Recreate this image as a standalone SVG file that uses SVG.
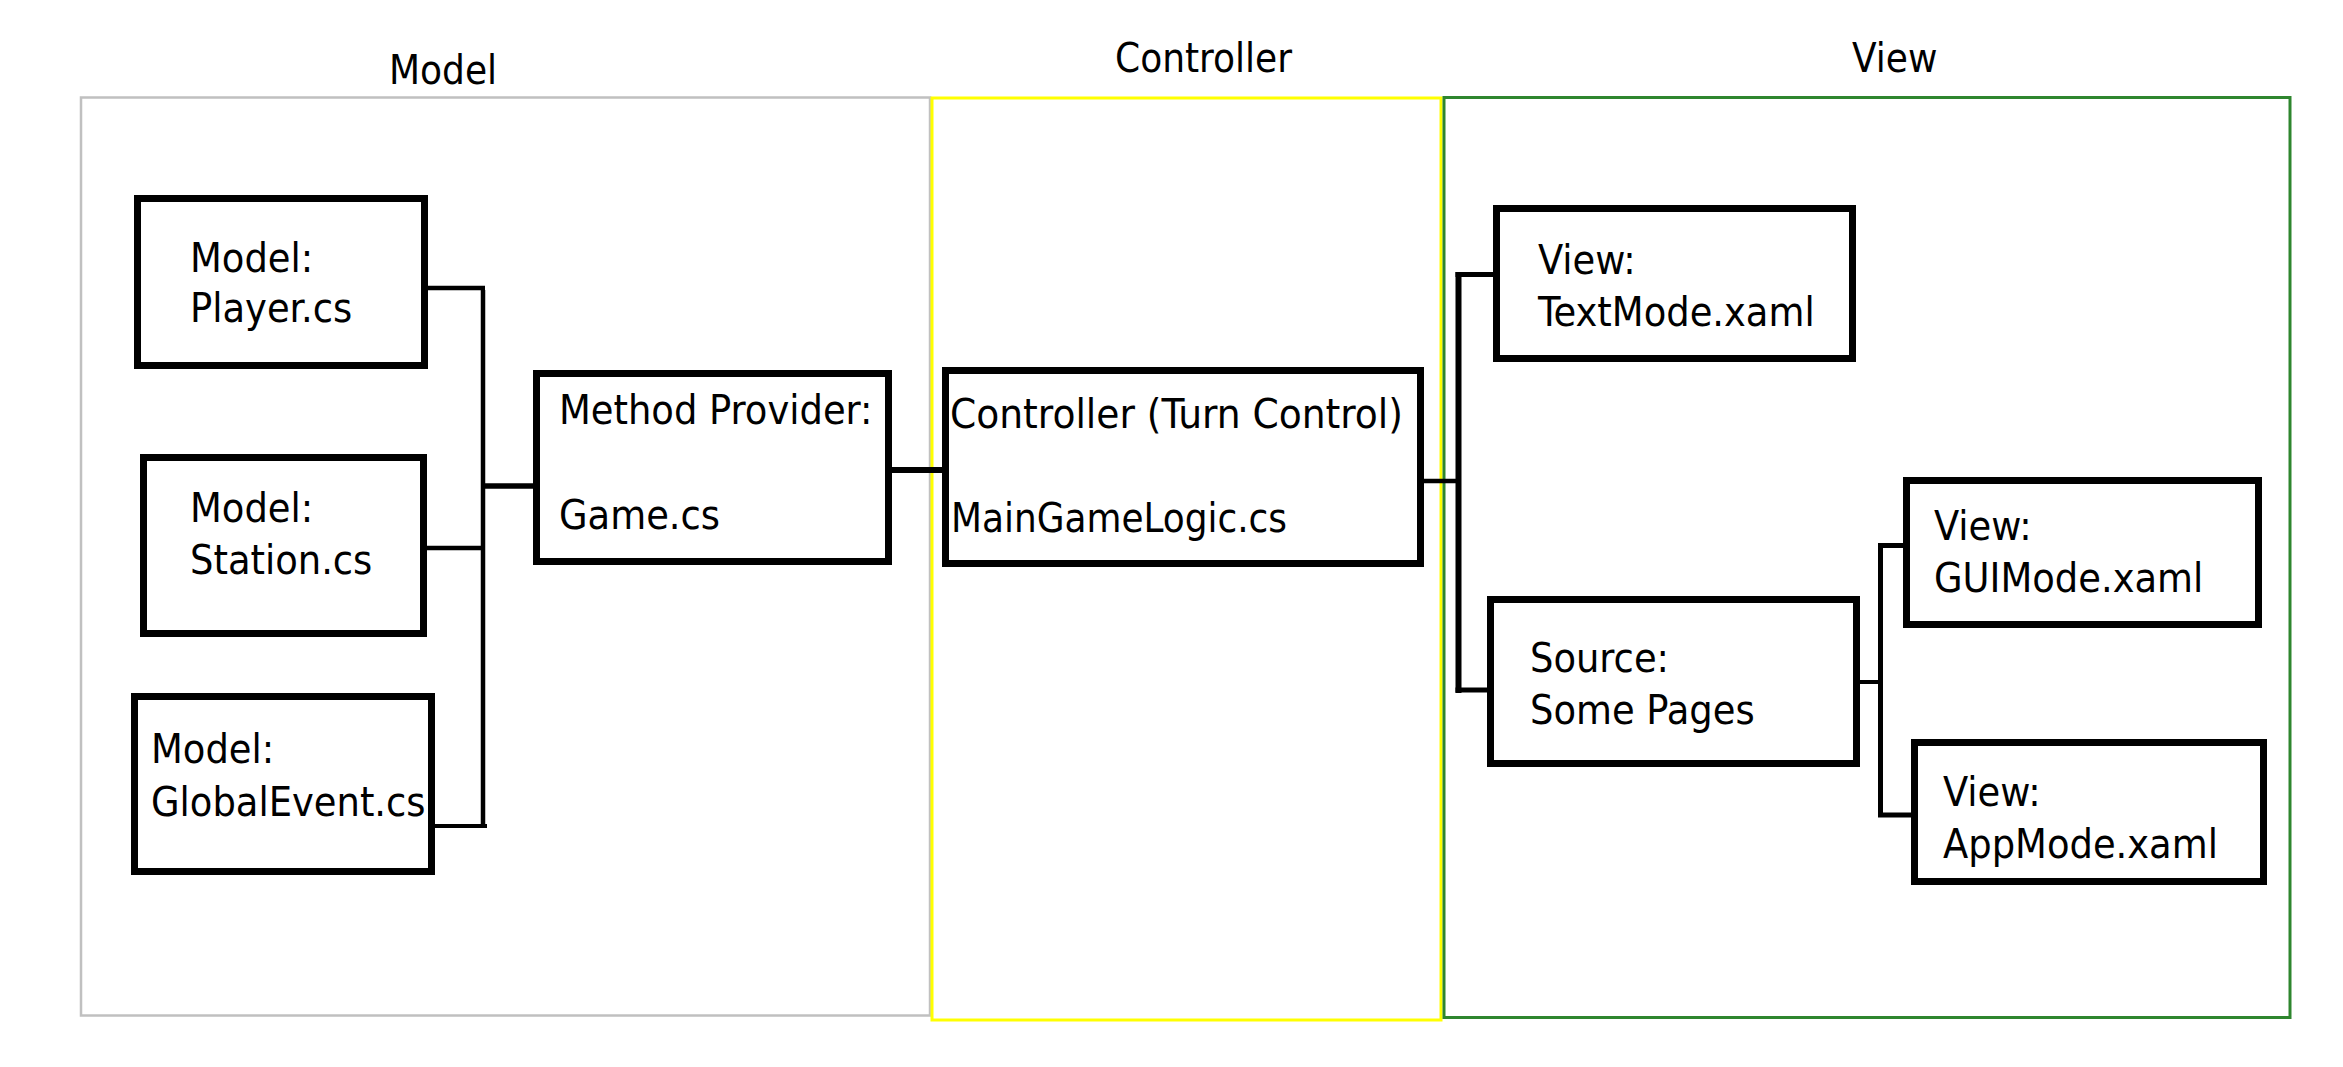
<svg xmlns="http://www.w3.org/2000/svg" width="2343" height="1067" viewBox="0 0 2343 1067">
<style>
.t{font-family:"DejaVu Sans Condensed","DejaVu Sans",sans-serif;font-size:41px;fill:#000}
.h{font-family:"DejaVu Sans Condensed","DejaVu Sans",sans-serif;font-size:40px;fill:#000}
.box{fill:#fff;stroke:#000;stroke-width:7}
.c{stroke:#000;fill:none}
</style>
<rect width="2343" height="1067" fill="#fff"/>
<g id="model-area">
<rect x="81" y="97.5" width="849" height="918" fill="none" stroke="#c0c0c0" stroke-width="2.5"/>
<text class="h" x="389" y="84">Model</text>
</g>
<g id="controller-area">
<rect x="932" y="98" width="509" height="922" fill="none" stroke="#ffff00" stroke-width="3"/>
<text class="h" x="1115" y="72">Controller</text>
</g>
<g id="view-area">
<rect x="1444" y="97.5" width="846" height="920" fill="none" stroke="#2e862e" stroke-width="3"/>
<text class="h" x="1852" y="72">View</text>
</g>
<g id="connectors">
<line class="c" x1="428" y1="288" x2="485" y2="288" stroke-width="4.5"/>
<line class="c" x1="483" y1="290" x2="483" y2="828" stroke-width="4.5"/>
<line class="c" x1="427" y1="548" x2="483" y2="548" stroke-width="4.5"/>
<line class="c" x1="435" y1="826" x2="487" y2="826" stroke-width="4"/>
<line class="c" x1="483" y1="486" x2="533" y2="486" stroke-width="5.5"/>
<line class="c" x1="892" y1="470" x2="942" y2="470" stroke-width="6"/>
<line class="c" x1="1424" y1="481" x2="1458" y2="481" stroke-width="4.5"/>
<line class="c" x1="1458.5" y1="272" x2="1458.5" y2="693" stroke-width="6"/>
<line class="c" x1="1455.5" y1="274.5" x2="1493" y2="274.5" stroke-width="5"/>
<line class="c" x1="1455.5" y1="690" x2="1487" y2="690" stroke-width="5"/>
<line class="c" x1="1860" y1="682" x2="1880" y2="682" stroke-width="4"/>
<line class="c" x1="1880.5" y1="543" x2="1880.5" y2="817" stroke-width="5"/>
<line class="c" x1="1878" y1="545.5" x2="1903" y2="545.5" stroke-width="5"/>
<line class="c" x1="1878" y1="815" x2="1911" y2="815" stroke-width="5"/>
</g>
<g id="player">
<rect class="box" x="137.5" y="198.5" width="287" height="167"/>
<text class="t" x="190" y="272">Model:</text>
<text class="t" x="190" y="322">Player.cs</text>
</g>
<g id="station">
<rect class="box" x="143.5" y="457.5" width="280" height="176"/>
<text class="t" x="190" y="522">Model:</text>
<text class="t" x="190" y="574">Station.cs</text>
</g>
<g id="globalevent">
<rect class="box" x="134.5" y="696.5" width="297" height="175"/>
<text class="t" x="151" y="763">Model:</text>
<text class="t" x="151" y="816">GlobalEvent.cs</text>
</g>
<g id="game">
<rect class="box" x="536.5" y="373.5" width="352" height="188"/>
<text class="t" x="559" y="424">Method Provider:</text>
<text class="t" x="559" y="529">Game.cs</text>
</g>
<g id="controller">
<rect class="box" x="945.5" y="370.5" width="475" height="193"/>
<text class="t" x="950" y="428" textLength="453" lengthAdjust="spacingAndGlyphs">Controller (Turn Control)</text>
<text class="t" x="951" y="532" textLength="336" lengthAdjust="spacingAndGlyphs">MainGameLogic.cs</text>
</g>
<g id="textmode">
<rect class="box" x="1496.5" y="208.5" width="356" height="150"/>
<text class="t" x="1538" y="274">View:</text>
<text class="t" x="1538" y="326">TextMode.xaml</text>
</g>
<g id="source">
<rect class="box" x="1490.5" y="599.5" width="366" height="164"/>
<text class="t" x="1530" y="672">Source:</text>
<text class="t" x="1530" y="724">Some Pages</text>
</g>
<g id="guimode">
<rect class="box" x="1906.5" y="480.5" width="352" height="144"/>
<text class="t" x="1934" y="540">View:</text>
<text class="t" x="1934" y="592">GUIMode.xaml</text>
</g>
<g id="appmode">
<rect class="box" x="1914.5" y="742.5" width="349" height="139"/>
<text class="t" x="1943" y="806">View:</text>
<text class="t" x="1943" y="858">AppMode.xaml</text>
</g>
</svg>
